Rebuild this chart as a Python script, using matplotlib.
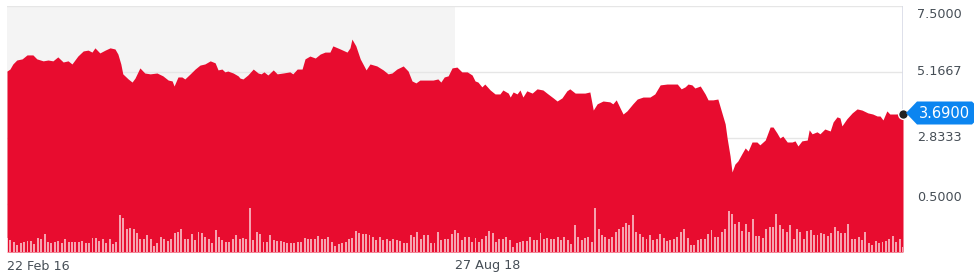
import matplotlib
matplotlib.use("Agg")
import matplotlib.pyplot as plt
import matplotlib.transforms as mtransforms
from matplotlib.patches import Polygon
import numpy as np

# ---------------- data ----------------
# price series: days since 22 Feb 2016, closing price
price_days = [0, 6, 12, 20, 31, 41, 53, 61, 74, 84, 94, 104, 115, 125, 133, 145, 156, 166, 174, 180,
              190, 201, 211, 221, 227, 233, 237, 248, 256, 262, 272, 282, 293, 307, 319, 330, 338, 342, 350, 358,
              364, 375, 385, 395, 405, 416, 426, 432, 440, 446, 452, 463, 473, 477, 483, 493, 504, 514, 520, 526,
              534, 545, 553, 565, 579, 585, 594, 604, 610, 620, 631, 641, 651, 661, 667, 682, 696, 702, 706, 714,
              723, 735, 743, 757, 770, 780, 788, 798, 811, 821, 829, 837, 845, 860, 872, 882, 888, 895, 903, 911,
              921, 931, 942, 952, 958, 964, 972, 978, 989, 999, 1009, 1015, 1026, 1030, 1036, 1044, 1050, 1056, 1064, 1075,
              1085, 1097, 1105, 1118, 1126, 1136, 1146, 1152, 1163, 1173, 1183, 1193, 1200, 1208, 1220, 1234, 1240, 1247, 1255, 1261,
              1269, 1281, 1290, 1302, 1316, 1326, 1337, 1351, 1363, 1372, 1380, 1388, 1394, 1402, 1408, 1419, 1429, 1435, 1445, 1455,
              1464, 1470, 1474, 1480, 1484, 1490, 1496, 1505, 1511, 1517, 1525, 1535, 1541, 1552, 1562, 1568, 1576, 1582, 1588, 1597,
              1607, 1613, 1619, 1627, 1638, 1642, 1648, 1658, 1664, 1674, 1685, 1691, 1699, 1705, 1709, 1719, 1730, 1740, 1750, 1762,
              1772, 1781, 1787, 1793, 1801, 1807, 1818, 1834]
prices = [5.20, 5.27, 5.45, 5.59, 5.63, 5.77, 5.77, 5.63, 5.56, 5.59, 5.56, 5.70, 5.52, 5.56, 5.45, 5.73, 5.91, 5.94, 5.87, 6.02,
          5.84, 5.94, 6.02, 5.98, 5.80, 5.45, 5.10, 4.92, 4.81, 4.95, 5.31, 5.13, 5.10, 5.13, 5.03, 4.88, 4.85, 4.67, 4.99, 4.99,
          4.92, 5.10, 5.27, 5.41, 5.45, 5.56, 5.49, 5.24, 5.27, 5.17, 5.20, 5.13, 5.03, 4.95, 4.92, 5.06, 5.27, 5.13, 5.10, 5.17,
          5.06, 5.24, 5.10, 5.13, 5.17, 5.10, 5.27, 5.27, 5.63, 5.73, 5.66, 5.80, 5.87, 5.87, 6.09, 5.98, 5.87, 6.02, 6.33, 6.09,
          5.63, 5.24, 5.45, 5.38, 5.24, 5.10, 5.13, 5.27, 5.38, 5.20, 4.85, 4.78, 4.88, 4.88, 4.88, 4.92, 4.81, 4.99, 5.03, 5.31,
          5.34, 5.17, 5.17, 5.06, 4.85, 4.81, 4.64, 4.74, 4.53, 4.39, 4.39, 4.53, 4.42, 4.28, 4.46, 4.39, 4.53, 4.28, 4.50, 4.42,
          4.57, 4.53, 4.42, 4.25, 4.14, 4.25, 4.50, 4.57, 4.42, 4.42, 4.42, 4.46, 3.82, 4.04, 4.14, 4.11, 4.04, 4.18, 3.89, 3.68,
          3.79, 4.04, 4.21, 4.28, 4.28, 4.39, 4.71, 4.74, 4.74, 4.74, 4.57, 4.64, 4.74, 4.71, 4.60, 4.67, 4.39, 4.18, 4.18, 4.21,
          3.68, 3.33, 2.83, 2.20, 1.63, 1.91, 2.02, 2.30, 2.48, 2.37, 2.69, 2.69, 2.59, 2.76, 3.22, 3.22, 3.01, 2.83, 2.90, 2.69,
          2.69, 2.73, 2.55, 2.73, 2.76, 3.12, 2.98, 3.05, 2.98, 3.15, 3.08, 3.40, 3.58, 3.54, 3.26, 3.51, 3.72, 3.86, 3.82, 3.72,
          3.68, 3.61, 3.61, 3.47, 3.79, 3.68, 3.68, 3.69]

# weekly volume (arbitrary units)
volumes = [13.7, 11.7, 10, 7, 8.7, 10, 11.3, 11.3, 7.7, 13.7,
           13.3, 18.3, 10, 8.7, 10, 10.7, 9.3, 13.3, 10, 10,
           10.3, 10, 10.7, 8.7, 8.7, 14, 14, 10.7, 12.7, 8.7,
           13.3, 7.7, 10, 36.7, 34.3, 22.7, 24.3, 23.3, 18.7, 13.3,
           13.3, 16.7, 13.3, 6, 8.7, 14.7, 12.7, 11.3, 13.3, 19.3,
           20.3, 23.3, 13.3, 12.7, 18.3, 11.7, 20, 18.7, 15.3, 12.7,
           8.7, 22, 14.7, 11.7, 10, 10, 12.7, 16.7, 12.7, 14.3,
           13.3, 44.3, 11.7, 20.3, 17.7, 10, 10, 16.7, 11.7, 11.3,
           10.7, 10, 9.3, 9.3, 8.7, 10,
           10, 13.7, 12.7, 12.7, 13.3, 16, 13.3, 13.3, 15, 10.3,
           6, 7.7, 8.7, 10.3, 12.7, 14.3, 21, 18.7, 17.7, 17.7,
           16.7, 15.3, 11.7, 15, 11.7, 13.3, 11, 13.3, 11.7, 10.7,
           8.7, 8.7, 16.7, 15, 20, 13.3, 16.7, 16.7, 9.3, 8.7,
           20, 11.7, 13.3, 12.7, 17.7, 21.7, 19.3, 11.7, 15, 15,
           10, 14.3, 10, 12.7, 16, 21, 18.7, 10.3, 13.3, 13.3,
           15, 11.7, 5.3, 8.7, 10, 11.3, 11.3, 15, 11.7, 11.7,
           18.7, 12.7, 14.3, 13.3, 13.3, 15.3, 11.7, 15, 11.7, 7.7,
           26.7, 15.3, 11.7, 13.7, 15, 10.3, 44, 23.3, 16.7, 15.3,
           13.3, 15, 20, 22.7, 25, 28.7, 26.7, 36.7, 20, 17.7,
           15.3, 13.3, 16.7,
           11.7, 13.3, 17.7, 14.3, 11.3, 12, 13.3, 15.3, 20, 22.7,
           13.7, 7.3, 7.3, 12, 12.7, 12.7, 17.7, 21.7, 14.7, 14.7,
           20.3, 22.7, 41, 37.7, 28.3, 30.3, 21, 27.7, 20, 33.3,
           15.7, 16.3, 14.3, 22.7, 25.3, 25.3, 38, 26.7, 22.7, 20.3,
           26.7, 12.7, 22.7, 20.3, 12.7, 21, 22, 16.7, 17.3, 19.3,
           18.3, 15.7, 18.7, 25.3, 20.7, 19.3, 19.3, 27.7, 13.3, 13.3,
           15.3, 12, 20, 8.7, 6.7, 11.3, 9.3, 10, 11, 13.3,
           15.7, 10.3, 12.7, 5.3]
volume_days = [7 * i for i in range(len(volumes))]

ytick_values = [7.5, 5.1667, 2.8333, 0.5]
ytick_labels = ["7.5000", "5.1667", "2.8333", "0.5000"]
xtick_days = [0, 917]
xtick_labels = ["22 Feb 16", "27 Aug 18"]
last_label = "3.6900"
shade_end_day = 917

# ---------------- style ----------------
RED = "#e80c2f"
W, H = 979, 280
fig = plt.figure(figsize=(W / 100, H / 100), dpi=100)
plt.rcParams['font.family'] = ['DejaVu Sans']
L, R, T, B = 7, 903, 6, 252
ax = fig.add_axes([L / W, 1 - B / H, (R - L) / W, (B - T) / H])
x_end = 1834
ax.set_xlim(0, x_end)
ax.set_ylim(-1.2, 7.5)
for s in ax.spines.values():
    s.set_visible(False)
ax.set_xticks([])
ax.set_yticks([])

# shaded background area
ax.axvspan(0, shade_end_day, color="#f4f4f4", zorder=0, lw=0)
# gridlines
for v in ytick_values:
    ax.axhline(v, color="#e6e6e6", lw=1, zorder=1)
ax.axvline(x_end, color="#d8dae6", lw=1.2, zorder=1)

# price area
ax.fill_between(price_days, prices, -1.2, color=RED, lw=0, zorder=2)

# volume bars on twin axis
ax2 = ax.twinx()
ax2.set_ylim(0, B - T)
ax2.set_xlim(0, x_end)
for s in ax2.spines.values():
    s.set_visible(False)
ax2.set_yticks([])
ax2.bar(volume_days, volumes, width=4.0, color="#ffffff", alpha=0.62, lw=0, zorder=3)

# last point marker
ax.plot([price_days[-1]], [prices[-1]], "o", ms=7, color="#222222", mec="white", mew=1, zorder=6, clip_on=False)

# y tick labels
offsets = [-9, 0, 0, 6]
for v, lab, off in zip(ytick_values, ytick_labels, offsets):
    tr = mtransforms.offset_copy(ax.get_yaxis_transform(), fig=fig, x=14 * 0.72, y=off * 0.72, units="points")
    ax.text(1, v, lab, transform=tr, ha="left", va="center", fontsize=9.2, color="#464e56", clip_on=False)

# x tick labels
for d, lab in zip(xtick_days, xtick_labels):
    tr = mtransforms.offset_copy(ax.get_xaxis_transform(), fig=fig, x=0, y=-14 * 0.72, units="points")
    ax.text(d, 0, lab, transform=tr, ha="left", va="center", fontsize=9.2, color="#464e56", clip_on=False)

# blue price tag (figure pixel coordinates)
yc = H - 113
tag = Polygon([[906, yc], [917, yc + 11.5], [972, yc + 11.5], [974, yc + 9.5], [974, yc - 9.5],
               [972, yc - 11.5], [917, yc - 11.5]],
              closed=True, transform=None, color="#0b85f0", lw=0, zorder=10)
fig.patches.append(tag)
fig.text(945 / W, yc / H, last_label, ha="center", va="center", fontsize=10.5, color="white", zorder=11)

fig.savefig("out.png", dpi=100)
